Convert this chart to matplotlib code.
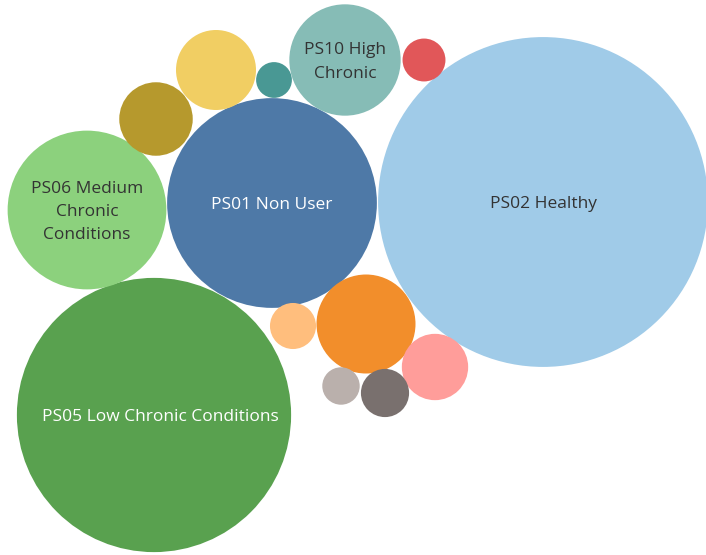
import numpy as np
import matplotlib
matplotlib.use("Agg")
import matplotlib.pyplot as plt
from matplotlib.patches import Circle

plt.rcParams['font.family'] = ['Open Sans', 'DejaVu Sans']

# segments
segments = ["PS01 Non User", "PS02 Healthy", "PS03", "PS04",
            "PS05 Low Chronic Conditions", "PS06 Medium\nChronic\nConditions",
            "PS07", "PS08", "PS09", "PS10 High\nChronic", "PS11", "PS12",
            "PS13", "PS14"]
show_label = [True, True, False, False, True, True,
              False, False, False, True, False, False, False, False]
# bubble size (area units, estimated)
size_value = [110, 272, 24.5, 5.3, 188, 63, 13.5, 16, 3.2, 31, 4.6, 11, 5.8, 3.5]
# bubble centres from the layout
centre_x = [272, 543, 366, 293, 154, 87, 156, 216, 274, 345, 424, 435, 385, 341]
centre_y = [203, 202, 324, 326, 415, 210, 119, 70, 80, 60, 60, 367, 393, 386]

# tableau 20 palette
colors = ["#4E79A7", "#A0CBE8", "#F28E2B", "#FFBE7D", "#59A14F", "#8CD17D",
          "#B6992D", "#F1CE63", "#499894", "#86BCB6", "#E15759", "#FF9D9A",
          "#79706E", "#BAB0AC"]
label_colors = {"PS01 Non User": "white", "PS05 Low Chronic Conditions": "white"}

fig = plt.figure(figsize=(7.06, 5.55), dpi=100)
ax = fig.add_axes([0, 0, 1, 1])
ax.set_xlim(0, 706)
ax.set_ylim(555, 0)
ax.set_aspect('equal')
ax.axis('off')

for i, name in enumerate(segments):
    r = 10 * np.sqrt(size_value[i])
    ax.add_patch(Circle((centre_x[i], centre_y[i]), r, facecolor=colors[i],
                        edgecolor='none'))
    if show_label[i]:
        tx = centre_x[i]
        ty = centre_y[i] + 2
        if name.startswith("PS05"):
            tx = centre_x[i] + 6
        ax.text(tx, ty, name, ha='center', va='center',
                fontsize=12.5, linespacing=1.6,
                color=label_colors.get(name, "#333333"))

fig.savefig("out.png", dpi=100)
